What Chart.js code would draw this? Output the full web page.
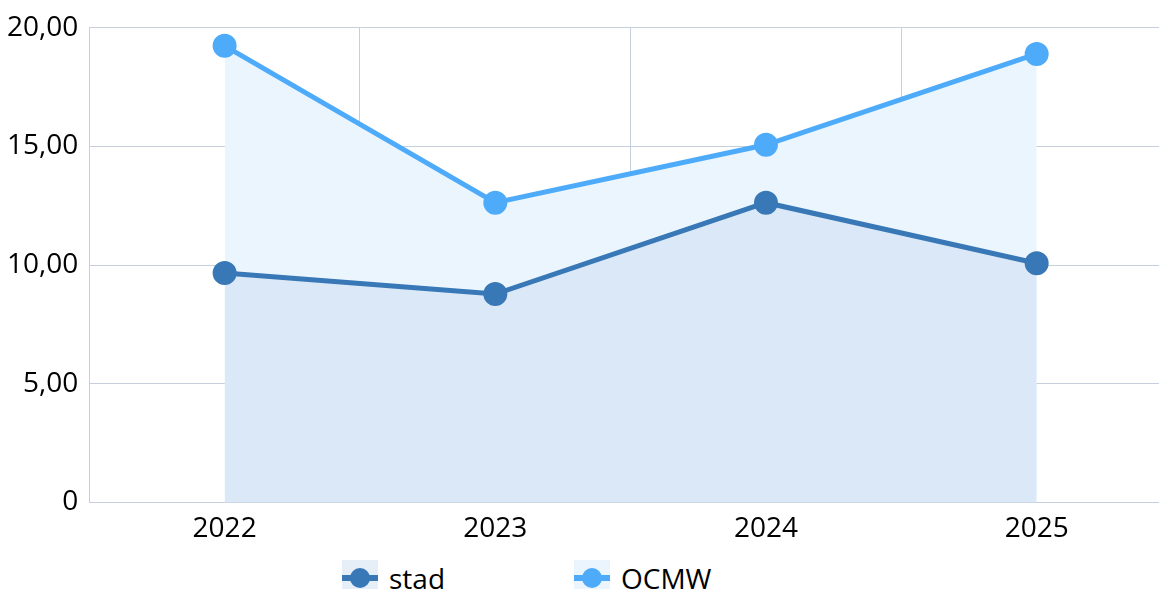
<!DOCTYPE html>
<html>
<head>
<meta charset="utf-8">
<script src="https://cdn.jsdelivr.net/npm/chart.js@4"></script>
<style>
    html, body { margin: 0; padding: 0; background: #fff; overflow: hidden; }
    #wrap { position: relative; width: 1176px; height: 600px; }
    #chart { position: absolute; left: -4px; top: 0; }
    #legend { position: absolute; left: 342px; top: 559px; display: flex; font-family: "Open Sans", sans-serif; font-size: 28px; color: #000; }
    .item { display: flex; align-items: center; }
    .swatch { position: relative; width: 36px; height: 36px; margin-right: 11px; }
    .swatch .ln { position: absolute; left: 0; right: 0; top: 15px; height: 6px; }
    .swatch .dot { position: absolute; left: 8px; top: 8px; width: 20px; height: 20px; border-radius: 50%; }
</style>
</head>
<body>
<div id="wrap">
    <canvas id="chart" width="1176" height="556"></canvas>
    <div id="legend"></div>
</div>
<script>
const years = ["2022", "2023", "2024", "2025"];
const stad = [9.67, 8.78, 12.63, 10.08];
const ocmw = [19.24, 12.63, 15.07, 18.9];
const seriesNames = ["stad", "OCMW"];
const lineColors = ["#3878b6", "#4eabf9"];
const fillColors = ["#dbe8f7", "#ebf5fe"];

const ctx = document.getElementById("chart").getContext("2d");
const font = { family: "'Open Sans', sans-serif", size: 28 };

const chart = new Chart(ctx, {
    type: 'line',
    data: {
        labels: years,
        datasets: [stad, ocmw].map((values, i) => ({
            label: seriesNames[i],
            data: values,
            borderColor: lineColors[i],
            backgroundColor: fillColors[i],
            pointBackgroundColor: lineColors[i],
            pointBorderColor: lineColors[i],
            pointRadius: 9.5,
            pointHoverRadius: 9.5,
            borderWidth: 5,
            tension: 0,
            fill: 'origin'
        }))
    },
    options: {
        responsive: false,
        animation: false,
        layout: { autoPadding: false },
        plugins: {
            legend: { display: false },
            tooltip: { enabled: false }
        },
        scales: {
            x: {
                offset: true,
                grid: { offset: true, color: '#c5d0dc', drawTicks: false },
                border: { color: '#c5d0dc' },
                ticks: { font: font, color: '#000', padding: 10 }
            },
            y: {
                min: 0,
                max: 20,
                grid: { color: '#c5d0dc', drawTicks: false },
                border: { color: '#c5d0dc' },
                ticks: {
                    stepSize: 5,
                    font: font,
                    color: '#000',
                    padding: 11,
                    callback: v => v === 0 ? '0' : v.toFixed(2).replace('.', ',')
                }
            }
        }
    }
});

const legend = document.getElementById("legend");
chart.data.datasets.forEach((ds, i) => {
    const item = document.createElement("div");
    item.className = "item";
    item.style.marginRight = i === 0 ? "129px" : "0";
    item.innerHTML = `
        <div class="swatch" style="background:${i === 0 ? '#e6eef8' : '#ebf5fe'}">
            <div class="ln" style="background:${ds.borderColor}"></div>
            <div class="dot" style="background:${ds.borderColor}"></div>
        </div>
        <span>${ds.label}</span>
    `;
    legend.appendChild(item);
});
</script>
</body>
</html>
